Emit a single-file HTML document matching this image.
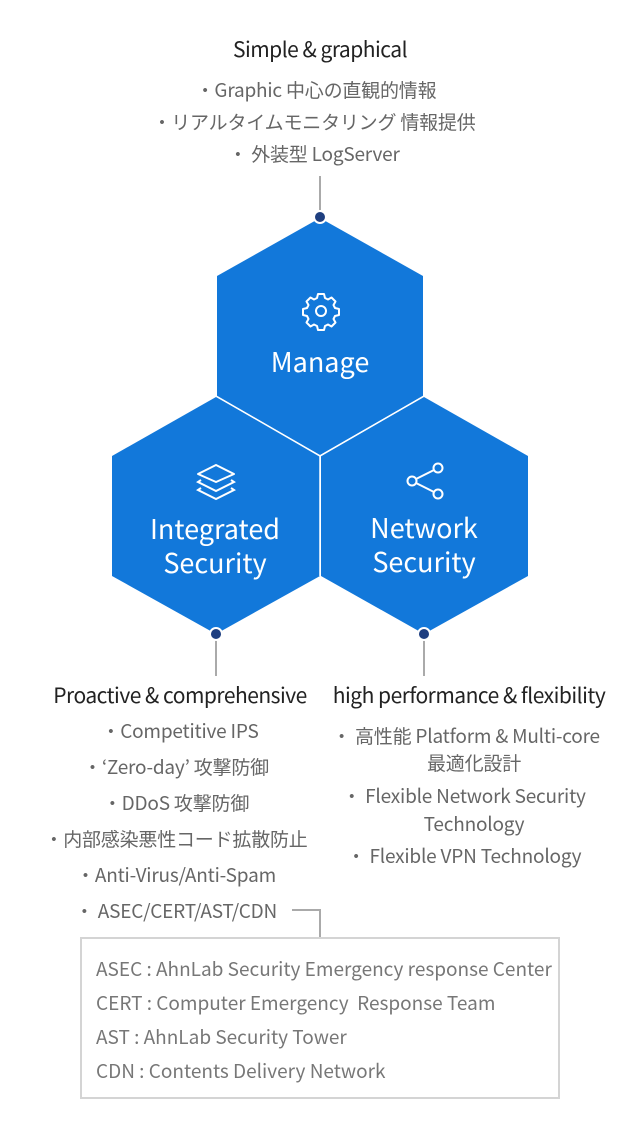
<!DOCTYPE html>
<html><head><meta charset="utf-8"><style>
html,body{margin:0;padding:0;background:#fff;}
body{width:640px;height:1139px;position:relative;overflow:hidden;font-family:"Noto Sans CJK JP","Liberation Sans",sans-serif;}
.t{position:absolute;white-space:nowrap;transform:translateX(-50%);line-height:1;}
.h{font-size:21px;color:#222;letter-spacing:-0.5px;}
.i{font-size:19px;color:#666;letter-spacing:-0.2px;}
.box{position:absolute;left:80px;top:937px;width:476px;height:158px;border:2px solid #d4d4d4;}
.b{position:absolute;left:14px;font-size:19px;color:#777;white-space:nowrap;line-height:1;letter-spacing:0px;}
</style></head><body>
<svg width="640" height="1139" style="position:absolute;left:0;top:0">
<g stroke="#aaa" stroke-width="2" fill="none">
<line x1="320" y1="176" x2="320" y2="210"/>
<line x1="216" y1="640" x2="216" y2="676"/>
<line x1="424" y1="640" x2="424" y2="676"/>
<polyline points="292,910 320,910 320,938"/>
</g>
<polygon points="320,218 423,276 423,396 320,455 217,396 217,276" fill="#1278da"/>
<polygon points="216,397 320,456 320,576 216,634 112,576 112,456" fill="#1278da"/>
<polygon points="424,397 528,456 528,576 424,634 321,576 321,456" fill="#1278da"/>
<g stroke="#fff" stroke-width="1.5" fill="none">
<polyline points="216,396 320,456 424,396"/>
<line x1="320" y1="456" x2="320" y2="576"/>
</g>
<g fill="#1f3f80" stroke="#fff" stroke-width="2">
<circle cx="320" cy="217" r="6"/>
<circle cx="216" cy="634" r="6"/>
<circle cx="424" cy="634" r="6"/>
</g>
<g stroke="#fff" stroke-width="2" fill="none">
<circle cx="321" cy="311" r="5"/>
<path d="M318 294 h6 l1 4 l3 1.5 l3.5-2 l4 4 l-2 3.5 l1.5 3 l4 1 v6 l-4 1 l-1.5 3 l2 3.5 l-4 4 l-3.5-2 l-3 1.5 l-1 4 h-6 l-1-4 l-3-1.5 l-3.5 2 l-4-4 l2-3.5 l-1.5-3 l-4-1 v-6 l4-1 l1.5-3 l-2-3.5 l4-4 l3.5 2 l3-1.5 z" stroke-linejoin="round"/>
<polygon points="216,465 234,474 216,482 198,474" stroke-linejoin="round"/>
<polyline points="201,480 198,482 216,491 234,482 231,480"/>
<polyline points="201,488 198,490 216,499 234,490 231,488"/>
<circle cx="438" cy="468" r="4.5"/>
<circle cx="412" cy="481" r="4.5"/>
<circle cx="438" cy="494" r="4.5"/>
<line x1="416" y1="479" x2="434" y2="470"/>
<line x1="416" y1="483" x2="434" y2="492"/>
</g>
<g fill="#fff" font-family="Noto Sans CJK JP, Liberation Sans, sans-serif" font-size="27" text-anchor="middle">
<text x="320" y="372">Manage</text>
<text x="215" y="539">Integrated</text>
<text x="215" y="573">Security</text>
<text x="424" y="538">Network</text>
<text x="424" y="572">Security</text>
</g>
</svg>
<div class="t h" style="left:320px;top:39px">Simple &amp; graphical</div>
<div class="t i" style="left:316px;top:80px">・Graphic 中心の直観的情報</div>
<div class="t i" style="left:314px;top:112px">・リアルタイムモニタリング 情報提供</div>
<div class="t i" style="left:314px;top:144px">・ 外装型 LogServer</div>

<div class="t h" style="left:180px;top:685px">Proactive &amp; comprehensive</div>
<div class="t i" style="left:180px;top:721px">・Competitive IPS</div>
<div class="t i" style="left:176px;top:757px">・‘Zero-day’ 攻撃防御</div>
<div class="t i" style="left:176px;top:793px">・DDoS 攻撃防御</div>
<div class="t i" style="left:176px;top:829px">・内部感染悪性コード拡散防止</div>
<div class="t i" style="left:176px;top:865px">・Anti-Virus/Anti-Spam</div>
<div class="t i" style="left:176px;top:901px">・ ASEC/CERT/AST/CDN</div>

<div class="t h" style="left:469px;top:685px">high performance &amp; flexibility</div>
<div class="t i" style="left:466px;top:726px">・ 高性能 Platform &amp; Multi-core</div>
<div class="t i" style="left:474px;top:753px">最適化設計</div>
<div class="t i" style="left:464px;top:786px">・ Flexible Network Security</div>
<div class="t i" style="left:474px;top:814px">Technology</div>
<div class="t i" style="left:464px;top:846px">・ Flexible VPN Technology</div>

<div class="box">
<div class="b" style="top:20px">ASEC : AhnLab Security Emergency response Center</div>
<div class="b" style="top:54px">CERT : Computer Emergency&nbsp; Response Team</div>
<div class="b" style="top:88px">AST : AhnLab Security Tower</div>
<div class="b" style="top:122px">CDN : Contents Delivery Network</div>
</div>
</body></html>
